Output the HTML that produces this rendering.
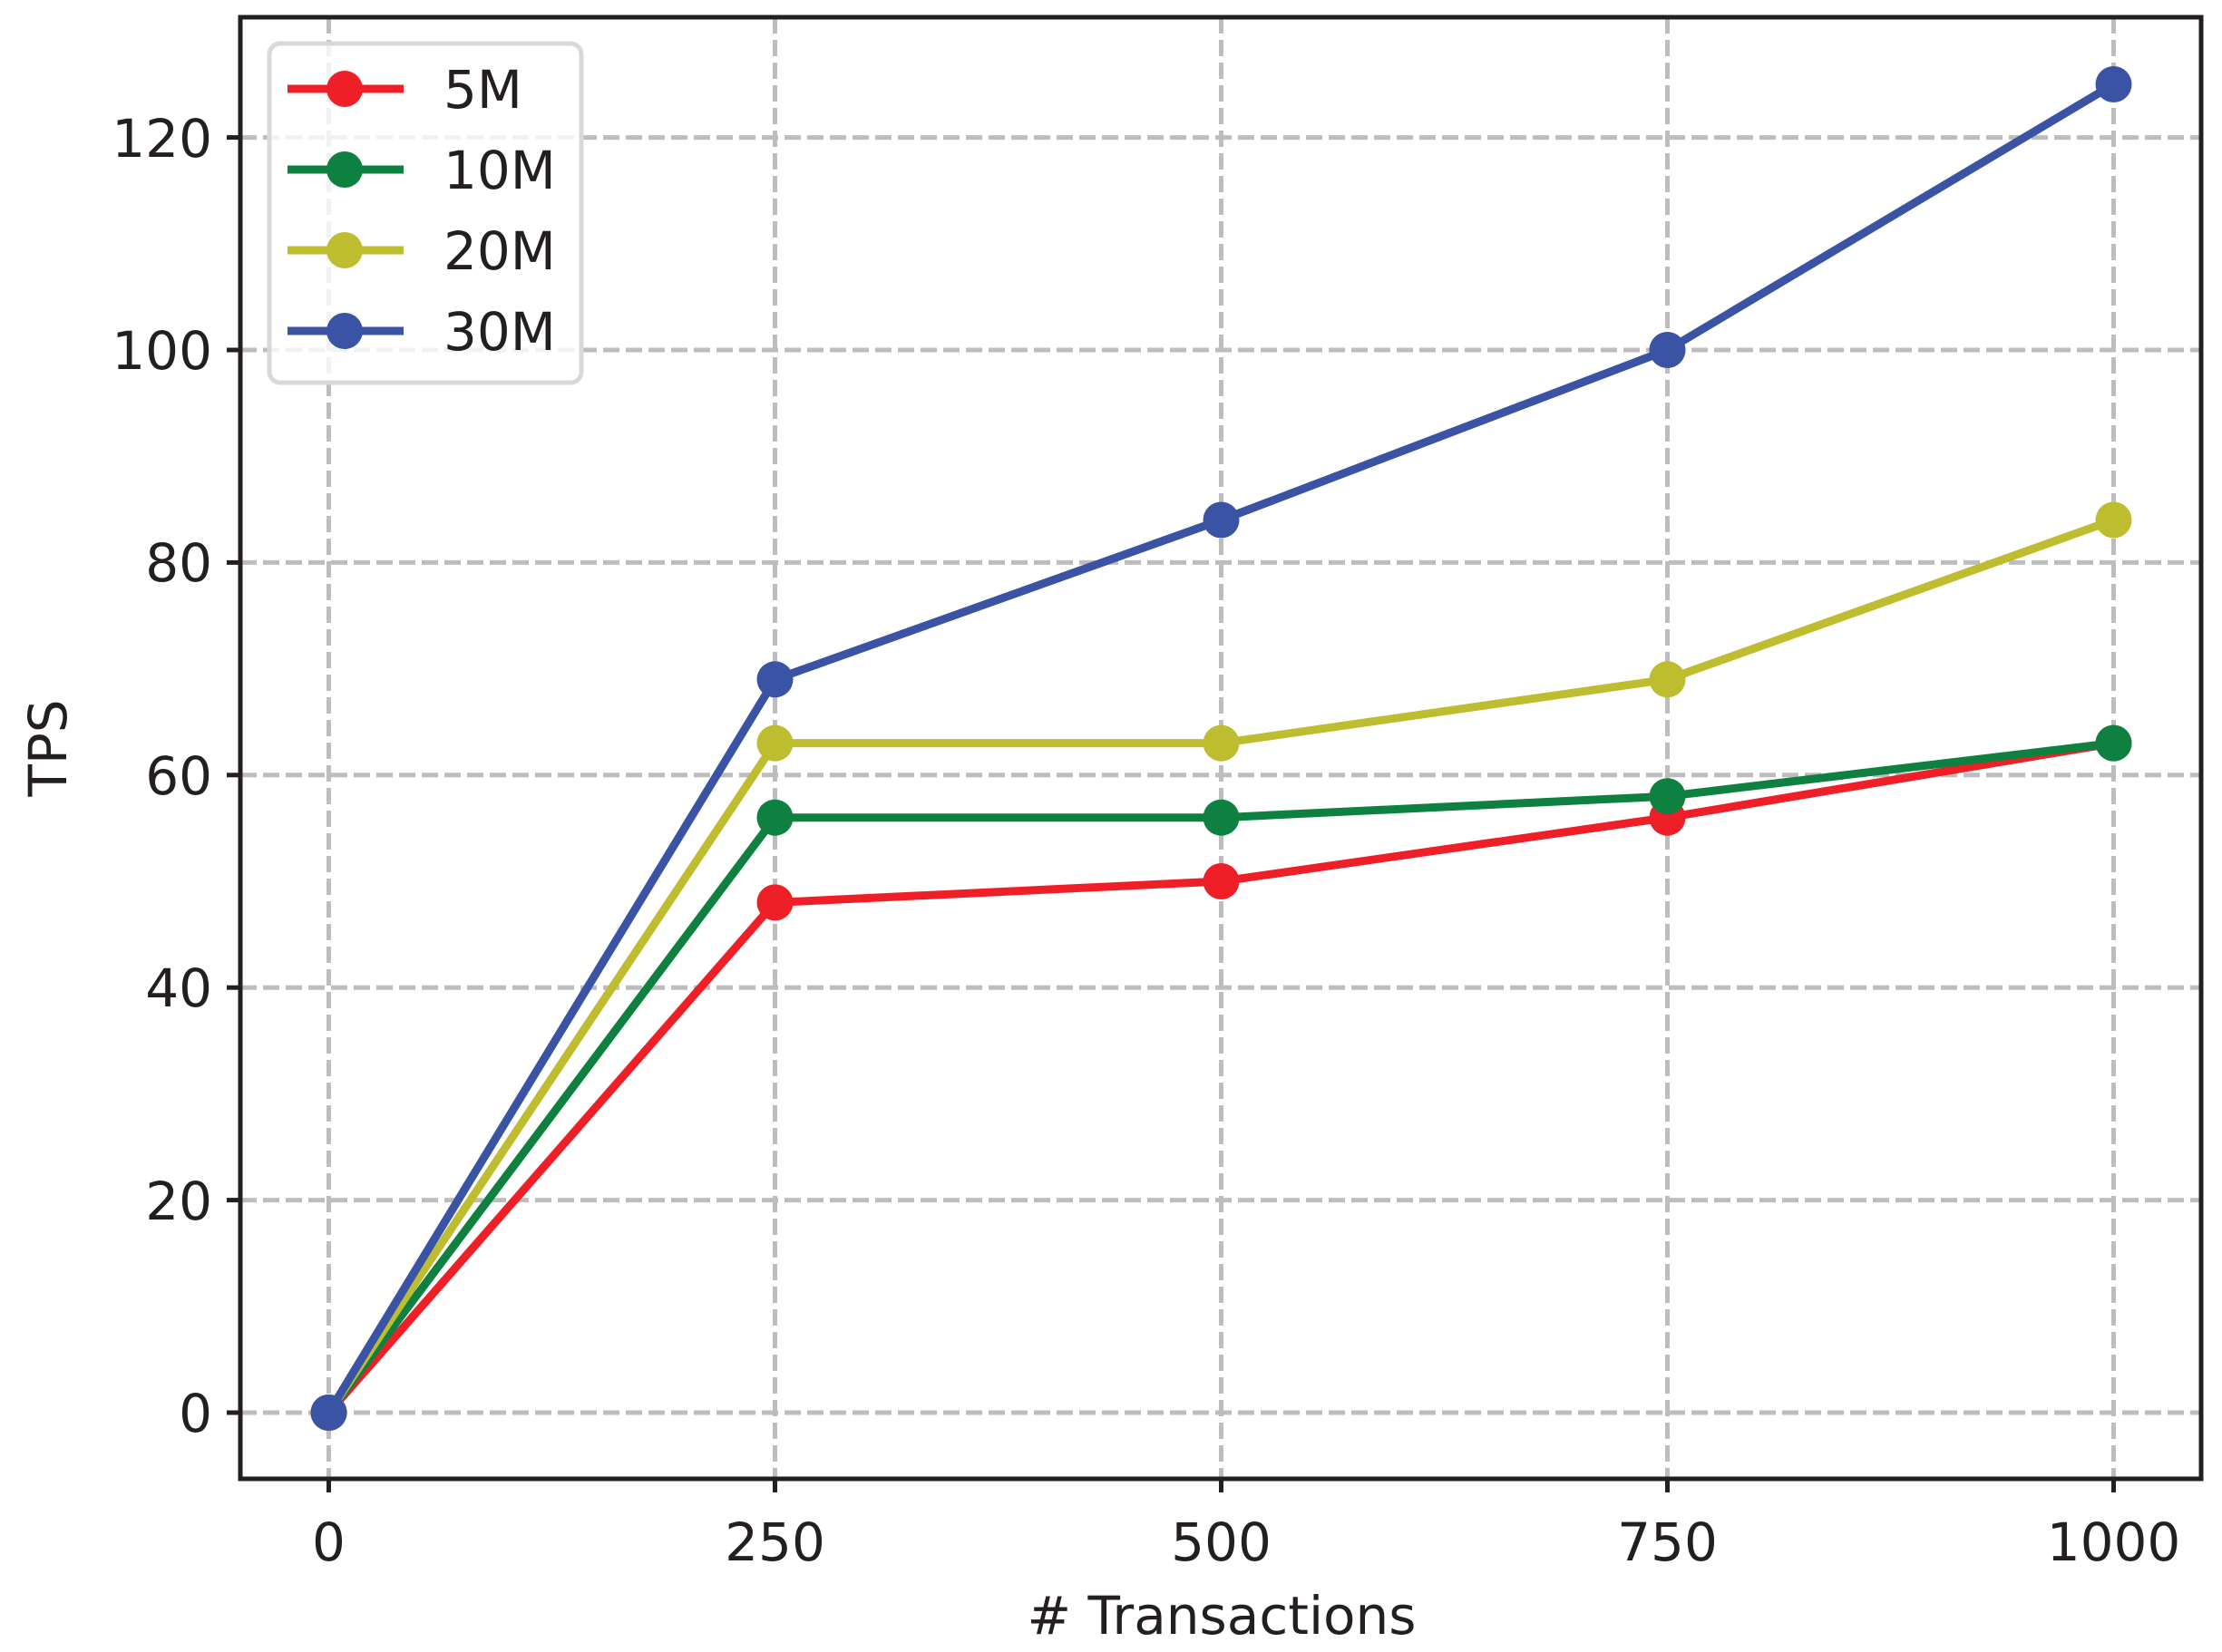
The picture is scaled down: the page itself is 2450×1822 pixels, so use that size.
<!DOCTYPE html>
<html><head><meta charset="utf-8"><style>html,body{margin:0;padding:0;background:#fff}svg{display:block}</style></head>
<body>
<svg width="2450" height="1822" viewBox="0 0 2450 1822" xmlns="http://www.w3.org/2000/svg" font-family="DejaVu Sans, Liberation Sans, sans-serif" fill="#231f20">
<g stroke="#bdbdbd" stroke-width="5" stroke-dasharray="18,7">
<line x1="362.5" y1="19" x2="362.5" y2="1631"/>
<line x1="854.5" y1="19" x2="854.5" y2="1631"/>
<line x1="1346.5" y1="19" x2="1346.5" y2="1631"/>
<line x1="1838.5" y1="19" x2="1838.5" y2="1631"/>
<line x1="2330.5" y1="19" x2="2330.5" y2="1631"/>
<line x1="265" y1="1558" x2="2427" y2="1558"/>
<line x1="265" y1="1323.6" x2="2427" y2="1323.6"/>
<line x1="265" y1="1089.2" x2="2427" y2="1089.2"/>
<line x1="265" y1="854.8" x2="2427" y2="854.8"/>
<line x1="265" y1="620.4" x2="2427" y2="620.4"/>
<line x1="265" y1="386" x2="2427" y2="386"/>
<line x1="265" y1="151.6" x2="2427" y2="151.6"/>
</g>
<g fill="none" stroke-width="9" stroke-linejoin="round">
<polyline stroke="#ee1f26" points="362.5,1558 854.5,995.4 1346.5,972 1838.5,901.7 2330.5,819.6"/>
<polyline stroke="#0e8140" points="362.5,1558 854.5,901.7 1346.5,901.7 1838.5,878.2 2330.5,819.6"/>
<polyline stroke="#bebd30" points="362.5,1558 854.5,819.6 1346.5,819.6 1838.5,749.3 2330.5,573.5"/>
<polyline stroke="#3a53a4" points="362.5,1558 854.5,749.3 1346.5,573.5 1838.5,386 2330.5,93"/>
</g>
<g fill="#ee1f26"><circle cx="362.5" cy="1558" r="20"/><circle cx="854.5" cy="995.4" r="20"/><circle cx="1346.5" cy="972" r="20"/><circle cx="1838.5" cy="901.7" r="20"/><circle cx="2330.5" cy="819.6" r="20"/></g>
<g fill="#0e8140"><circle cx="362.5" cy="1558" r="20"/><circle cx="854.5" cy="901.7" r="20"/><circle cx="1346.5" cy="901.7" r="20"/><circle cx="1838.5" cy="878.2" r="20"/><circle cx="2330.5" cy="819.6" r="20"/></g>
<g fill="#bebd30"><circle cx="362.5" cy="1558" r="20"/><circle cx="854.5" cy="819.6" r="20"/><circle cx="1346.5" cy="819.6" r="20"/><circle cx="1838.5" cy="749.3" r="20"/><circle cx="2330.5" cy="573.5" r="20"/></g>
<g fill="#3a53a4"><circle cx="362.5" cy="1558" r="20"/><circle cx="854.5" cy="749.3" r="20"/><circle cx="1346.5" cy="573.5" r="20"/><circle cx="1838.5" cy="386" r="20"/><circle cx="2330.5" cy="93" r="20"/></g>
<rect x="297" y="48" width="344" height="374" rx="12" fill="#fff" fill-opacity="0.8" stroke="#d9d9d9" stroke-width="5"/>
<g stroke-width="9">
<line x1="317" y1="98" x2="445" y2="98" stroke="#ee1f26"/>
<line x1="317" y1="187" x2="445" y2="187" stroke="#0e8140"/>
<line x1="317" y1="276" x2="445" y2="276" stroke="#bebd30"/>
<line x1="317" y1="365" x2="445" y2="365" stroke="#3a53a4"/>
</g>
<circle cx="380" cy="98" r="20" fill="#ee1f26"/>
<circle cx="380" cy="187" r="20" fill="#0e8140"/>
<circle cx="380" cy="276" r="20" fill="#bebd30"/>
<circle cx="380" cy="365" r="20" fill="#3a53a4"/>
<g font-size="58">
<text x="489" y="119">5M</text>
<text x="489" y="208">10M</text>
<text x="489" y="297">20M</text>
<text x="489" y="386">30M</text>
</g>
<rect x="265" y="19" width="2162" height="1612" fill="none" stroke="#231f20" stroke-width="5"/>
<g stroke="#231f20" stroke-width="5">
<line x1="362.5" y1="1631" x2="362.5" y2="1646"/><line x1="854.5" y1="1631" x2="854.5" y2="1646"/><line x1="1346.5" y1="1631" x2="1346.5" y2="1646"/><line x1="1838.5" y1="1631" x2="1838.5" y2="1646"/><line x1="2330.5" y1="1631" x2="2330.5" y2="1646"/>
<line x1="250" y1="1558" x2="265" y2="1558"/><line x1="250" y1="1323.6" x2="265" y2="1323.6"/><line x1="250" y1="1089.2" x2="265" y2="1089.2"/><line x1="250" y1="854.8" x2="265" y2="854.8"/><line x1="250" y1="620.4" x2="265" y2="620.4"/><line x1="250" y1="386" x2="265" y2="386"/><line x1="250" y1="151.6" x2="265" y2="151.6"/>
</g>
<g font-size="58" text-anchor="middle">
<text x="362.5" y="1721">0</text><text x="854.5" y="1721">250</text><text x="1346.5" y="1721">500</text><text x="1838.5" y="1721">750</text><text x="2330.5" y="1721">1000</text>
</g>
<g font-size="58" text-anchor="end">
<text x="234" y="1579">0</text><text x="234" y="1345">20</text><text x="234" y="1110">40</text><text x="234" y="876">60</text><text x="234" y="641">80</text><text x="234" y="407">100</text><text x="234" y="173">120</text>
</g>
<text x="1347" y="1802" font-size="58" text-anchor="middle"># Transactions</text>
<text transform="translate(73,825) rotate(-90)" font-size="58" text-anchor="middle">TPS</text>
</svg>
</body></html>
